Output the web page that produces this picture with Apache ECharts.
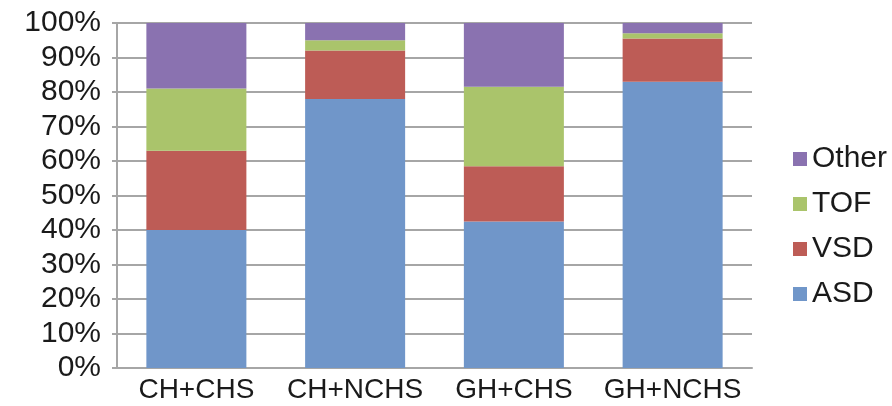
<!DOCTYPE html>
<html><head><meta charset="utf-8">
<script src="https://cdn.jsdelivr.net/npm/echarts@6/dist/echarts.min.js"></script>
<style>html,body{margin:0;padding:0;background:#fff}#c{width:892px;height:406px}</style>
</head><body><div id="c"></div>
<script>
const categories = ['CH+CHS', 'CH+NCHS', 'GH+CHS', 'GH+NCHS'];
const asd = [40, 78, 42.5, 83];
const vsd = [23, 14, 16, 12.5];
const tof = [18, 3, 23, 1.5];
const other = [19, 5, 18.5, 3];
const yTicks = [0, 100, 10];

const chart = echarts.init(document.getElementById('c'), null, {renderer: 'canvas'});
const font = 'Liberation Sans, Arial, sans-serif';
function s(name, data, color) {
  return {name, type: 'bar', stack: 'a', data, barCategoryGap: '37%', itemStyle: {color}, emphasis: {disabled: true}};
}
chart.setOption({
  animation: false,
  grid: {left: 117, right: 140, top: 23, bottom: 38},
  legend: {
    orient: 'vertical', left: 788, top: 139,
    data: ['Other', 'TOF', 'VSD', 'ASD'],
    icon: 'rect', itemWidth: 14, itemHeight: 14, itemGap: 15,
    textStyle: {fontFamily: font, fontSize: 30, color: '#1a1a1a', padding: [0, 0, 0, 0]}
  },
  xAxis: {
    type: 'category', data: categories,
    axisLine: {lineStyle: {color: '#a6a6a6', width: 2}},
    axisTick: {show: false},
    axisLabel: {fontFamily: font, fontSize: 28, color: '#1a1a1a', margin: 8, interval: 0, hideOverlap: false}
  },
  yAxis: {
    type: 'value', min: yTicks[0], max: yTicks[1], interval: yTicks[2],
    axisLine: {show: true, lineStyle: {color: '#a6a6a6', width: 2}},
    axisTick: {show: true, length: 5, lineStyle: {color: '#a6a6a6', width: 2}},
    splitLine: {lineStyle: {color: '#a6a6a6', width: 2}},
    axisLabel: {fontFamily: font, fontSize: 30, color: '#1a1a1a', margin: 16, formatter: '{value}%'}
  },
  series: [
    s('ASD', asd, '#7096c9'),
    s('VSD', vsd, '#bd5c56'),
    s('TOF', tof, '#aac46b'),
    s('Other', other, '#8a72b0')
  ]
});
</script></body></html>
